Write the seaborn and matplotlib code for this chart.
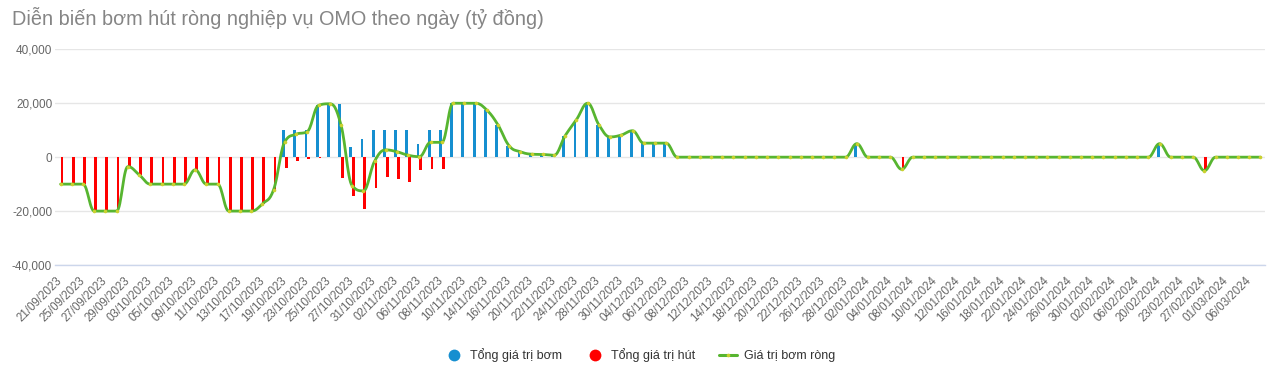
import numpy as np
import pandas as pd
import matplotlib.pyplot as plt
from matplotlib.lines import Line2D
import seaborn as sns

# --------------------------------------------------
# Data (ty dong)
# --------------------------------------------------
dates = [
    "21/09/2023", "22/09/2023", "25/09/2023", "26/09/2023", "27/09/2023", "28/09/2023",
    "29/09/2023", "02/10/2023", "03/10/2023", "04/10/2023", "05/10/2023", "06/10/2023",
    "09/10/2023", "10/10/2023", "11/10/2023", "12/10/2023", "13/10/2023", "16/10/2023",
    "17/10/2023", "18/10/2023", "19/10/2023", "20/10/2023", "23/10/2023", "24/10/2023",
    "25/10/2023", "26/10/2023", "27/10/2023", "30/10/2023", "31/10/2023", "01/11/2023",
    "02/11/2023", "03/11/2023", "06/11/2023", "07/11/2023", "08/11/2023", "09/11/2023",
    "10/11/2023", "13/11/2023", "14/11/2023", "15/11/2023", "16/11/2023", "17/11/2023",
    "20/11/2023", "21/11/2023", "22/11/2023", "23/11/2023", "24/11/2023", "27/11/2023",
    "28/11/2023", "29/11/2023", "30/11/2023", "01/12/2023", "04/12/2023", "05/12/2023",
    "06/12/2023", "07/12/2023", "08/12/2023", "11/12/2023", "12/12/2023", "13/12/2023",
    "14/12/2023", "15/12/2023", "18/12/2023", "19/12/2023", "20/12/2023", "21/12/2023",
    "22/12/2023", "25/12/2023", "26/12/2023", "27/12/2023", "28/12/2023", "29/12/2023",
    "02/01/2024", "03/01/2024", "04/01/2024", "05/01/2024", "08/01/2024", "09/01/2024",
    "10/01/2024", "11/01/2024", "12/01/2024", "15/01/2024", "16/01/2024", "17/01/2024",
    "18/01/2024", "19/01/2024", "22/01/2024", "23/01/2024", "24/01/2024", "25/01/2024",
    "26/01/2024", "29/01/2024", "30/01/2024", "31/01/2024", "02/02/2024", "05/02/2024",
    "06/02/2024", "07/02/2024", "20/02/2024", "21/02/2024", "23/02/2024", "26/02/2024",
    "27/02/2024", "28/02/2024", "01/03/2024", "04/03/2024", "06/03/2024", "07/03/2024",
]

bom = [
    0, 0, 0, 0, 0, 0, 0, 0, 0, 0, 0, 0, 0, 0, 0, 0, 0, 0, 0, 0,
    10000, 10000, 10000, 19500, 19800, 19800, 3800, 6600, 10000, 10000,
    10000, 10000, 5000, 10000, 10000, 20000, 20000, 20000, 17500, 12000,
    4200, 2000, 1100, 1000, 700, 8000, 13900, 20000, 12000, 7500,
    8200, 9800, 5200, 5200, 5200, 0, 0, 0, 0, 0,
    0, 0, 0, 0, 0, 0, 0, 0, 0, 0,
    0, 5000, 0, 0, 0, 0, 0, 0, 0, 0,
    0, 0, 0, 0, 0, 0, 0, 0, 0, 0,
    0, 0, 0, 0, 0, 0, 0, 0, 5000, 0,
    0, 0, 0, 0, 0, 0, 0, 0,
]

hut = [
    -10000, -10000, -10000, -20000, -20000, -20000, -3500, -6500, -10000, -10000,
    -10000, -10000, -4700, -10000, -10000, -20000, -20000, -20000, -17300, -12000,
    -4200, -1500, -500, -300, 0, -7800, -14400, -19100, -11500, -7300,
    -8000, -9300, -4800, -4500, -4500, 0, 0, 0, 0, 0,
    0, 0, 0, 0, 0, 0, 0, 0, 0, 0,
    0, 0, 0, 0, 0, 0, 0, 0, 0, 0,
    0, 0, 0, 0, 0, 0, 0, 0, 0, 0,
    0, 0, 0, 0, 0, -4500, 0, 0, 0, 0,
    0, 0, 0, 0, 0, 0, 0, 0, 0, 0,
    0, 0, 0, 0, 0, 0, 0, 0, 0, 0,
    0, 0, -5000, 0, 0, 0, 0, 0,
]

net = np.array(bom) + np.array(hut)

blue = "#168fd0"
red = "#ff0000"
green = "#57b530"
dot = "#cbd12f"


def spline_path(x, y, smoothing=1.5, steps=16):
    # bezier spline like the web chart library draws it
    x = np.asarray(x, float)
    y = np.asarray(y, float)
    n = len(x)
    lcx, lcy, rcx, rcy = x.copy(), y.copy(), x.copy(), y.copy()
    d = smoothing + 1
    for i in range(1, n - 1):
        px, py = x[i], y[i]
        lx, ly, nx, ny = x[i - 1], y[i - 1], x[i + 1], y[i + 1]
        a = (smoothing * px + lx) / d
        b = (smoothing * py + ly) / d
        c = (smoothing * px + nx) / d
        e = (smoothing * py + ny) / d
        if c != a:
            corr = ((e - b) * (c - px)) / (c - a) + py - e
            b += corr
            e += corr
        if b > ly and b > py:
            b = max(ly, py)
            e = 2 * py - b
        elif b < ly and b < py:
            b = min(ly, py)
            e = 2 * py - b
        if e > ny and e > py:
            e = max(ny, py)
            b = 2 * py - e
        elif e < ny and e < py:
            e = min(ny, py)
            b = 2 * py - e
        lcx[i], lcy[i], rcx[i], rcy[i] = a, b, c, e
    t = np.linspace(0, 1, steps)[:, None]
    xs, ys = [x[0]], [y[0]]
    for i in range(1, n):
        p0 = np.array([x[i - 1], y[i - 1]])
        p1 = np.array([rcx[i - 1], rcy[i - 1]])
        p2 = np.array([lcx[i], lcy[i]])
        p3 = np.array([x[i], y[i]])
        seg = ((1 - t) ** 3) * p0 + 3 * ((1 - t) ** 2) * t * p1 + 3 * (1 - t) * t ** 2 * p2 + t ** 3 * p3
        xs.extend(seg[1:, 0])
        ys.extend(seg[1:, 1])
    return np.array(xs), np.array(ys)


df = pd.DataFrame({
    "date": dates * 2,
    "value": bom + hut,
    "series": ["Tổng giá trị bơm"] * len(dates) + ["Tổng giá trị hút"] * len(dates),
})

sns.set_style("white")
plt.rcParams["font.family"] = ["Liberation Sans", "DejaVu Sans"]

fig = plt.figure(figsize=(12.73, 3.75), dpi=100)
ax = fig.add_axes([0.0432, 0.2933, 0.9505, 0.5752])

sns.barplot(
    data=df, x="date", y="value", hue="series", order=dates,
    palette=[blue, red], saturation=1, width=0.5, dodge=True, legend=False, ax=ax,
    edgecolor="none", linewidth=0,
)

xs, ys = spline_path(np.arange(len(dates)), net)
ax.plot(xs, ys, color=green, linewidth=2.0, zorder=4, solid_capstyle="round")
ax.plot(np.arange(len(dates)), net, linestyle="none", marker="o", markersize=2.6,
        markerfacecolor=dot, markeredgecolor="none", zorder=5)

ax.set_xlim(-0.5, 107.4)
ax.set_ylim(-40000, 40000)
ax.set_yticks([-40000, -20000, 0, 20000, 40000])
ax.set_yticklabels(["-40,000", "-20,000", "0", "20,000", "40,000"])
ax.yaxis.grid(True, color="#e6e6e6", linewidth=1)
ax.set_axisbelow(True)

ax.set_xticks(np.arange(0, len(dates), 2))
ax.set_xticklabels(dates[::2], rotation=45, ha="right", va="center", rotation_mode="anchor")

for side in ["top", "right", "left"]:
    ax.spines[side].set_visible(False)
ax.spines["bottom"].set_color("#ccd6eb")
ax.spines["bottom"].set_linewidth(1)

ax.tick_params(axis="y", length=0, pad=2, labelsize=8.5, labelcolor="#666666")
ax.tick_params(axis="x", direction="out", length=7, width=1, color="#ccd6eb",
               pad=3, labelsize=8.3, labelcolor="#666666")
ax.set_xlabel("")
ax.set_ylabel("")

fig.text(0.0094, 1 - 18 / 375, "Diễn biến bơm hút ròng nghiệp vụ OMO theo ngày (tỷ đồng)",
         ha="left", va="center", fontsize=14.3, color="#858585")

handles = [
    Line2D([], [], marker="o", linestyle="none", markersize=8.5,
           markerfacecolor=blue, markeredgecolor="none"),
    Line2D([], [], marker="o", linestyle="none", markersize=8.5,
           markerfacecolor=red, markeredgecolor="none"),
    Line2D([], [], color=green, linewidth=2.2, marker="o", markersize=2.6,
           markerfacecolor=dot, markeredgecolor="none"),
]
fig.legend(handles, ["Tổng giá trị bơm", "Tổng giá trị hút", "Giá trị bơm ròng"],
           loc="center", bbox_to_anchor=(0.503, 0.053), ncol=3, frameon=False,
           fontsize=9, handlelength=1.4, handletextpad=0.6, columnspacing=1.9,
           labelcolor="#333333")

fig.savefig("out.png", dpi=100)
